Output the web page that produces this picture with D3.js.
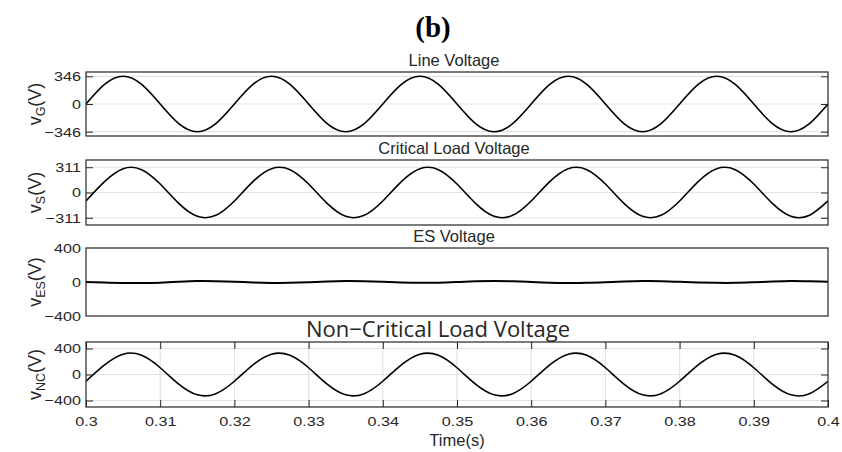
<!DOCTYPE html>
<html>
<head>
<meta charset="utf-8">
<script src="https://cdn.jsdelivr.net/npm/d3@7"></script>
<style>
body { margin: 0; background: #fff; }
text { font-family: "Liberation Sans", Arial, sans-serif; fill: #262626; }
</style>
</head>
<body>
<div id="chart"></div>
<script>
// sample times (s), every eighth of a 50 Hz cycle
var timeSec = [0.3000, 0.3025, 0.3050, 0.3075, 0.3100, 0.3125, 0.3150, 0.3175, 0.3200, 0.3225,
               0.3250, 0.3275, 0.3300, 0.3325, 0.3350, 0.3375, 0.3400, 0.3425, 0.3450, 0.3475,
               0.3500, 0.3525, 0.3550, 0.3575, 0.3600, 0.3625, 0.3650, 0.3675, 0.3700, 0.3725,
               0.3750, 0.3775, 0.3800, 0.3825, 0.3850, 0.3875, 0.3900, 0.3925, 0.3950, 0.3975,
               0.4000]

// line voltage v_G (V)
var vG = [0, 245, 346, 245, 0, -245, -346, -245,
          0, 245, 346, 245, 0, -245, -346, -245,
          0, 245, 346, 245, 0, -245, -346, -245,
          0, 245, 346, 245, 0, -245, -346, -245,
          0, 245, 346, 245, 0, -245, -346, -245,
          0]

// critical load voltage v_S (V)
var vS = [-104, 134, 293, 281, 104, -134, -293, -281,
          -104, 134, 293, 281, 104, -134, -293, -281,
          -104, 134, 293, 281, 104, -134, -293, -281,
          -104, 134, 293, 281, 104, -134, -293, -281,
          -104, 134, 293, 281, 104, -134, -293, -281,
          -104]

// ES voltage v_ES (V)
var vES = [0, -6, -11, -12, -8, 2, 11, 10, 4, -6,
           -11, -10, -3, 6, 11, 9, 2, -6, -10, -8,
           0, 8, 11, 8, 0, -8, -11, -9, -2, 6,
           11, 10, 3, -5, -10, -10, -3, 5, 11, 8,
           2]

// non-critical load voltage v_NC (V)
var vNC = [-104, 148, 313, 295, 104, -148, -313, -295,
           -104, 148, 313, 295, 104, -148, -313, -295,
           -104, 148, 313, 295, 104, -148, -313, -295,
           -104, 148, 313, 295, 104, -148, -313, -295,
           -104, 148, 313, 295, 104, -148, -313, -295,
           -104]

var xTicks = [0.3, 0.31, 0.32, 0.33, 0.34, 0.35, 0.36, 0.37, 0.38, 0.39, 0.4]
var xTickLabels = ['0.3', '0.31', '0.32', '0.33', '0.34', '0.35', '0.36', '0.37', '0.38', '0.39', '0.4']

var titles = ['Line Voltage', 'Critical Load Voltage', 'ES Voltage', 'Non\u2212Critical Load Voltage']
var subs = ['G', 'S', 'ES', 'NC']
var yTicks = [[-346, 0, 346], [-311, 0, 311], [-400, 0, 400], [-400, 0, 400]]
var yDomains = [[-400, 400], [-400, 400], [-400, 400], [-500, 500]]

var width = 842, height = 452,
    left = 86, right = 828,
    ink = '#262626', gridColor = '#e3e3e3',
    tickStretch = 1.2

var panels = [
    {top: 72, bottom: 136, values: vG, grid: true, ticks: true, lw: 1.6},
    {top: 160, bottom: 225, values: vS, grid: true, ticks: true, lw: 1.6},
    {top: 248, bottom: 316, values: vES, grid: false, ticks: false, lw: 2},
    {top: 342, bottom: 407, values: vNC, grid: true, ticks: true, xaxis: true, lw: 1.6}
]

var x = d3.scaleLinear().domain([0.3, 0.4]).range([left, right])

var svg = d3.select('#chart').append('svg')
    .attr('width', width)
    .attr('height', height)

svg.append('rect').attr('width', width).attr('height', height).attr('fill', '#fff')

svg.append('text')
    .attr('x', 433).attr('y', 37)
    .attr('text-anchor', 'middle')
    .style('font-family', '"Liberation Serif", "DejaVu Serif", serif')
    .style('font-weight', 'bold')
    .style('font-size', '29px')
    .style('fill', '#000')
    .text('(b)')

// tick labels in the figure are wider than they are tall
function stretch(sel, sx) {
    sel.each(function() {
        var t = d3.select(this), xv = +t.attr('x') || 0
        t.attr('x', xv / sx).attr('transform', 'scale(' + sx + ',1)')
    })
}

panels.forEach(function(p, i) {
    var y = d3.scaleLinear().domain(yDomains[i]).range([p.bottom, p.top])
    var g = svg.append('g')

    g.append('clipPath').attr('id', 'clip' + i)
        .append('rect')
        .attr('x', left).attr('y', p.top)
        .attr('width', right - left).attr('height', p.bottom - p.top)

    if (p.grid) {
        g.selectAll('.hgrid').data(yTicks[i]).enter().append('line')
            .attr('x1', left).attr('x2', right)
            .attr('y1', function(d) { return y(d) })
            .attr('y2', function(d) { return y(d) })
            .attr('stroke', gridColor).attr('stroke-width', 1.2)
    }
    if (p.xaxis) {
        g.selectAll('.vgrid').data(xTicks.slice(1, -1)).enter().append('line')
            .attr('x1', function(d) { return x(d) })
            .attr('x2', function(d) { return x(d) })
            .attr('y1', p.top).attr('y2', p.bottom)
            .attr('stroke', gridColor).attr('stroke-width', 1.2)
    }

    var line = d3.line()
        .x(function(d, k) { return x(timeSec[k]) })
        .y(function(d) { return y(d) })
        .curve(d3.curveNatural)

    g.append('path')
        .datum(p.values)
        .attr('clip-path', 'url(#clip' + i + ')')
        .attr('d', line)
        .attr('fill', 'none')
        .attr('stroke', '#000')
        .attr('stroke-width', p.lw)

    var yLeft = g.append('g')
        .attr('transform', 'translate(' + left + ',0)')
        .call(d3.axisLeft(y).tickValues(yTicks[i]).tickSizeInner(p.ticks ? -7 : 0).tickSizeOuter(0).tickPadding(5))
    var yRight = g.append('g')
        .attr('transform', 'translate(' + right + ',0)')
        .call(d3.axisRight(y).tickValues(p.ticks ? yTicks[i] : []).tickSizeInner(-7).tickSizeOuter(0).tickFormat(''))

    var axes = [yLeft, yRight]
    if (p.xaxis) {
        axes.push(g.append('g')
            .attr('transform', 'translate(0,' + p.bottom + ')')
            .call(d3.axisBottom(x).tickValues(xTicks).tickSizeInner(-7).tickSizeOuter(0).tickPadding(9)
                .tickFormat(function(d, k) { return xTickLabels[k] })))
        axes.push(g.append('g')
            .attr('transform', 'translate(0,' + p.top + ')')
            .call(d3.axisTop(x).tickValues(xTicks).tickSizeInner(-7).tickSizeOuter(0).tickFormat('')))
    }
    axes.forEach(function(a) {
        a.select('.domain').remove()
        a.selectAll('line').attr('stroke', ink)
        a.selectAll('text').style('font-size', '13.5px').style('fill', ink)
            .style('font-family', '"Liberation Sans", Arial, sans-serif')
            .call(stretch, tickStretch)
    })

    g.append('rect')
        .attr('x', left).attr('y', p.top)
        .attr('width', right - left).attr('height', p.bottom - p.top)
        .attr('fill', 'none').attr('stroke', ink).attr('stroke-width', 1.2)

    var title = g.append('text')
        .attr('text-anchor', 'middle')
        .text(titles[i])
    if (i === 3) {
        title.attr('x', 438).attr('y', p.top - 5)
            .style('font-family', '"Open Sans", sans-serif')
            .style('font-size', '22px')
    } else {
        title.attr('x', 454).attr('y', p.top - 6)
            .style('font-size', '16.5px')
    }

    var yl = g.append('text')
        .attr('transform', 'translate(41,' + ((p.top + p.bottom) / 2) + ') rotate(-90)')
        .attr('text-anchor', 'middle')
        .style('font-size', '18px')
    yl.append('tspan').text('v')
    yl.append('tspan').attr('dy', 4).style('font-size', '12.5px').text(subs[i])
    yl.append('tspan').attr('dy', -4).text('(V)')
})

svg.append('text')
    .attr('x', 457).attr('y', 446)
    .attr('text-anchor', 'middle')
    .style('font-size', '16.5px')
    .text('Time(s)')
</script>
</body>
</html>
